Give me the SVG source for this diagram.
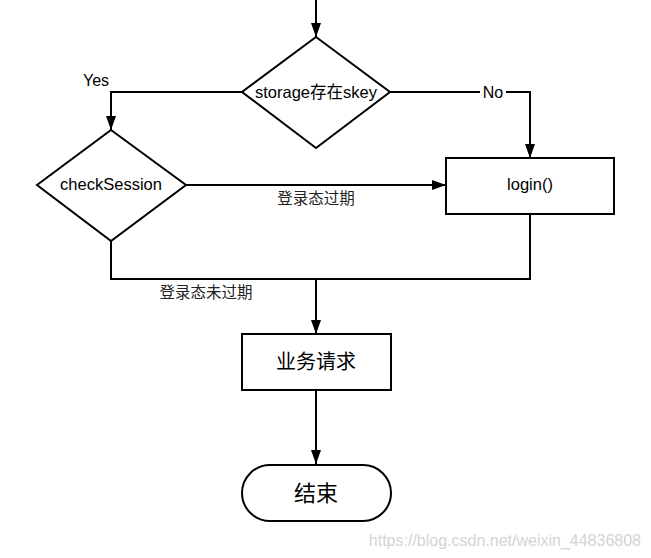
<svg xmlns="http://www.w3.org/2000/svg" width="651" height="558" viewBox="0 0 651 558">
<style>
.shape{fill:#fff;stroke:#000;stroke-width:2}
.edge{fill:none;stroke:#000;stroke-width:2}
.t{font-family:"Liberation Sans","Noto Sans CJK SC",sans-serif;fill:#000;text-anchor:middle;dominant-baseline:central}
.lbl{font-family:"Liberation Sans","Noto Sans CJK SC",sans-serif;fill:#222;font-size:15.5px;text-anchor:middle;dominant-baseline:central}
</style>
<defs>
<marker id="arrv" markerWidth="14" markerHeight="10" refX="14" refY="5" orient="auto" markerUnits="userSpaceOnUse" viewBox="0 0 14 10">
<path d="M0,0 L14,5 L0,10 Z" fill="#000"/>
</marker>
</defs>
<rect width="651" height="558" fill="#fff"/>
<g id="connectors">
<path class="edge" d="M316,0 L316,37" marker-end="url(#arrv)"/>
<path class="edge" d="M242,92 L111,92 L111,130" marker-end="url(#arrv)"/>
<path class="edge" d="M390,92 L530,92 L530,158" marker-end="url(#arrv)"/>
<path class="edge" d="M186,185 L446,185" marker-end="url(#arrv)"/>
<path class="edge" d="M111,241 L111,279 L530,279 L530,214"/>
<path class="edge" d="M316,279 L316,334" marker-end="url(#arrv)"/>
<path class="edge" d="M316,390 L316,464" marker-end="url(#arrv)"/>
<text class="lbl" x="96" y="80" style="font-size:16px;fill:#000">Yes</text>
<rect x="480" y="83" width="26" height="18" fill="#fff"/>
<text class="lbl" x="493" y="92" style="font-size:16px;fill:#000">No</text>
<text class="lbl" x="316" y="198">登录态过期</text>
<text class="lbl" x="206" y="292">登录态未过期</text>
</g>
<g id="storage">
<path class="shape" d="M316,37 L390,92 L316,148 L242,92 Z"/>
<text class="t" x="316" y="92" font-size="16.5">storage存在skey</text>
</g>
<g id="checkSession">
<path class="shape" d="M111,130 L186,185 L111,241 L37,185 Z"/>
<text class="t" x="111" y="184" font-size="16.5">checkSession</text>
</g>
<g id="login">
<rect class="shape" x="446" y="158" width="168" height="56"/>
<text class="t" x="530" y="184" font-size="16.5">login()</text>
</g>
<g id="request">
<rect class="shape" x="242" y="334" width="149" height="56"/>
<text class="t" x="316" y="362" font-size="20">业务请求</text>
</g>
<g id="end">
<rect class="shape" x="242" y="465" width="149" height="56" rx="28" ry="28"/>
<text class="t" x="316" y="493" font-size="22">结束</text>
</g>
<text x="641" y="540" font-family="Liberation Sans, sans-serif" font-size="16" fill="#d4d4d4" text-anchor="end" dominant-baseline="central">https://blog.csdn.net/weixin_44836808</text>
</svg>
